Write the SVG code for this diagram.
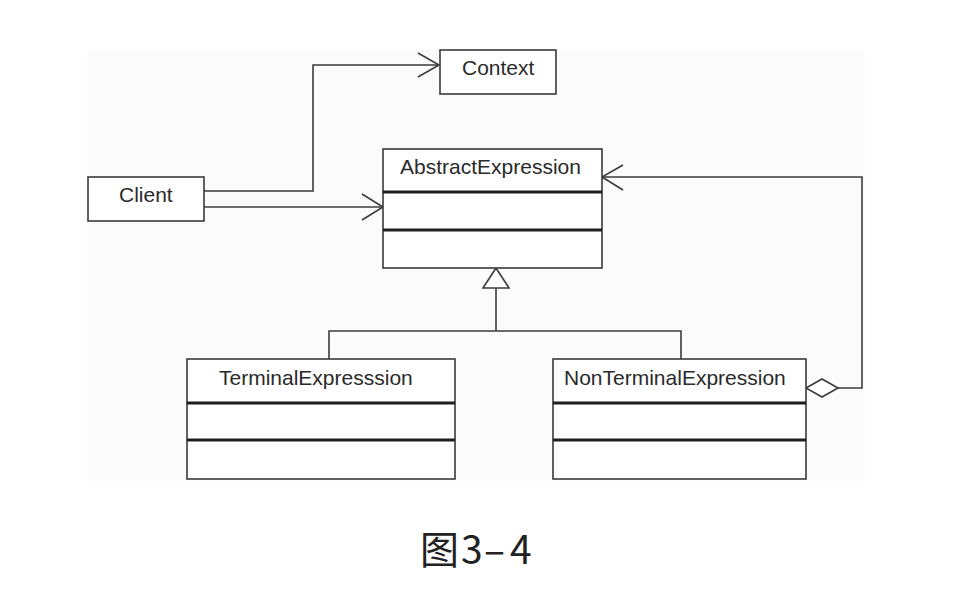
<svg xmlns="http://www.w3.org/2000/svg" width="956" height="604" viewBox="0 0 956 604">
<style>
.box{fill:#ffffff;stroke:#3a3a3a;stroke-width:1.6}
.div{stroke:#1e1e1e;stroke-width:3}
.lbl{font-family:"Liberation Sans",Arial,sans-serif;font-size:21px;fill:#2a2a2a}
.conn{fill:none;stroke:#3c3c3c;stroke-width:1.6}
.head{fill:none;stroke:#3c3c3c;stroke-width:1.6;stroke-linejoin:miter}
.hollow{fill:#ffffff;stroke:#3c3c3c;stroke-width:1.6}
</style>
<rect x="0" y="0" width="956" height="604" fill="#ffffff"/>
<rect x="87" y="50" width="778" height="431" fill="#fbfbfb"/>

<g id="connectors">
  <polyline class="conn" points="204,191 313,191 313,65 439,65"/>
  <polyline class="head" points="418,53 439,65 418,77"/>
  <line class="conn" x1="204" y1="207" x2="383" y2="207"/>
  <polyline class="head" points="362,194 383,207 362,220"/>
  <polyline class="conn" points="329,359 329,331 681,331 681,359"/>
  <line class="conn" x1="496" y1="331" x2="496" y2="288"/>
  <polygon class="hollow" points="496,268 483,288 509,288"/>
  <polyline class="conn" points="838,388 862,388 862,177 602,177"/>
  <polyline class="head" points="623,165 602,177 623,190"/>
  <polygon class="hollow" points="806,388 822,379 838,388 822,397"/>
</g>

<g id="context">
  <rect class="box" x="440" y="50" width="116" height="44"/>
  <text class="lbl" x="462" y="75">Context</text>
</g>

<g id="client">
  <rect class="box" x="88" y="177" width="116" height="44"/>
  <text class="lbl" x="119" y="202">Client</text>
</g>

<g id="abstractExpression">
  <rect class="box" x="383" y="149" width="219" height="119"/>
  <line class="div" x1="383" y1="192" x2="602" y2="192"/>
  <line class="div" x1="383" y1="230" x2="602" y2="230"/>
  <text class="lbl" x="400" y="174">AbstractExpression</text>
</g>

<g id="terminalExpression">
  <rect class="box" x="187" y="359" width="268" height="120"/>
  <line class="div" x1="187" y1="403" x2="455" y2="403"/>
  <line class="div" x1="187" y1="440" x2="455" y2="440"/>
  <text class="lbl" x="219" y="385">TerminalExpresssion</text>
</g>

<g id="nonTerminalExpression">
  <rect class="box" x="553" y="359" width="253" height="120"/>
  <line class="div" x1="553" y1="403" x2="806" y2="403"/>
  <line class="div" x1="553" y1="440" x2="806" y2="440"/>
  <text class="lbl" x="564" y="385">NonTerminalExpression</text>
</g>

<g id="caption">
  <text y="564" font-family="'Noto Sans CJK SC','Noto Sans',sans-serif" font-size="39" fill="#222222"><tspan x="420">图</tspan><tspan x="461">3</tspan><tspan x="484">–</tspan><tspan x="510">4</tspan></text>
</g>
</svg>
